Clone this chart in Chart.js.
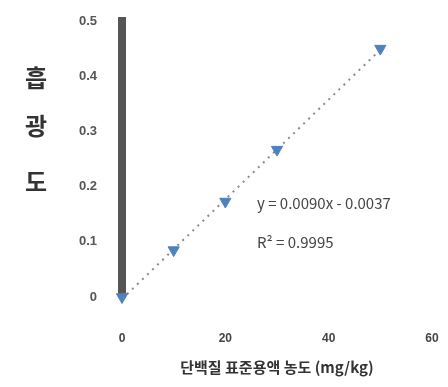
<!DOCTYPE html>
<html>
<head>
<meta charset="utf-8">
<script src="https://cdn.jsdelivr.net/npm/chart.js@4"></script>
<style>
  html, body { margin: 0; padding: 0; background: #fff; }
  #wrap { width: 448px; height: 387px; }
</style>
</head>
<body>
<div id="wrap"><canvas id="calib"></canvas></div>
<script>
(function() {
  const concentrations = [0, 10, 20, 30, 50];
  const absorbances = [0, 0.085, 0.173, 0.267, 0.45];
  const xTicks = [0, 20, 40, 60];
  const yTicks = [0, 0.1, 0.2, 0.3, 0.4, 0.5];
  const yTitle = ['흡', '광', '도'];
  const xTitle = '단백질 표준용액 농도 (mg/kg)';
  const equation = ['y = 0.0090x - 0.0037', 'R² = 0.9995'];

  // least squares line through the measured points
  const n = concentrations.length;
  const mx = concentrations.reduce((a, b) => a + b, 0) / n;
  const my = absorbances.reduce((a, b) => a + b, 0) / n;
  let sxy = 0, sxx = 0;
  concentrations.forEach((x, i) => {
    sxy += (x - mx) * (absorbances[i] - my);
    sxx += (x - mx) * (x - mx);
  });
  const slope = sxy / sxx;
  const icpt = my - slope * mx;
  const xFirst = concentrations[0];
  const xLast = concentrations[n - 1];

  const sideText = {
    id: 'sideText',
    afterDraw(chart) {
      const ctx = chart.ctx;
      ctx.save();
      ctx.fillStyle = '#333';
      ctx.textAlign = 'center';
      ctx.textBaseline = 'middle';
      ctx.font = 'bold 24px "Noto Sans CJK KR"';
      const ys = [78, 126, 182];
      yTitle.forEach((ch, i) => ctx.fillText(ch, 36, ys[i]));
      ctx.textAlign = 'left';
      ctx.font = '15px "Noto Sans CJK KR"';
      ctx.fillStyle = '#444';
      ctx.fillText(equation[0], 257, 203);
      ctx.fillText(equation[1], 257, 242);
      ctx.restore();
    }
  };

  new Chart(document.getElementById('calib'), {
    type: 'scatter',
    data: {
      datasets: [
        {
          label: '측정값',
          data: concentrations.map((x, i) => ({ x: x, y: absorbances[i] })),
          pointStyle: 'triangle',
          rotation: 180,
          radius: 6.5,
          backgroundColor: '#4f81bd',
          borderColor: '#4f81bd',
          clip: false
        },
        {
          type: 'line',
          label: '추세선',
          data: [
            { x: xFirst, y: slope * xFirst + icpt },
            { x: xLast, y: slope * xLast + icpt }
          ],
          borderColor: '#8a8a8a',
          borderWidth: 2,
          borderDash: [2, 5],
          pointRadius: 0,
          fill: false,
          order: 1
        }
      ]
    },
    options: {
      responsive: true,
      maintainAspectRatio: false,
      animation: false,
      layout: { autoPadding: false, padding: { top: 21, right: 16, left: 0, bottom: 0 } },
      plugins: {
        legend: { display: false },
        tooltip: { enabled: false }
      },
      scales: {
        x: {
          type: 'linear',
          min: xTicks[0],
          max: xTicks[xTicks.length - 1],
          afterBuildTicks: s => { s.ticks = xTicks.map(v => ({ value: v })); },
          afterFit: s => { s.height = 90; s.paddingLeft = 0; s.paddingRight = 0; },
          grid: { display: false, drawTicks: false },
          border: { display: false },
          ticks: {
            padding: 34,
            color: '#444',
            font: { family: 'Liberation Sans', size: 12, weight: 'bold' }
          },
          title: {
            display: true,
            text: xTitle,
            color: '#333',
            font: { family: 'Noto Sans CJK KR', size: 15, weight: 'bold' },
            padding: { top: 0, bottom: 11 }
          }
        },
        y: {
          min: yTicks[0],
          max: yTicks[yTicks.length - 1],
          afterBuildTicks: s => { s.ticks = yTicks.map(v => ({ value: v })); },
          afterFit: s => { s.width = 122; s.paddingTop = 0; s.paddingBottom = 0; },
          grid: { display: false, drawTicks: false },
          border: { display: true, color: '#555', width: 8 },
          ticks: {
            padding: 25,
            color: '#555',
            font: { family: 'Liberation Sans', size: 13, weight: 'bold' },
            callback: v => v === 0 ? '0' : v.toFixed(1)
          }
        }
      }
    },
    plugins: [sideText]
  });
})();
</script>
</body>
</html>
